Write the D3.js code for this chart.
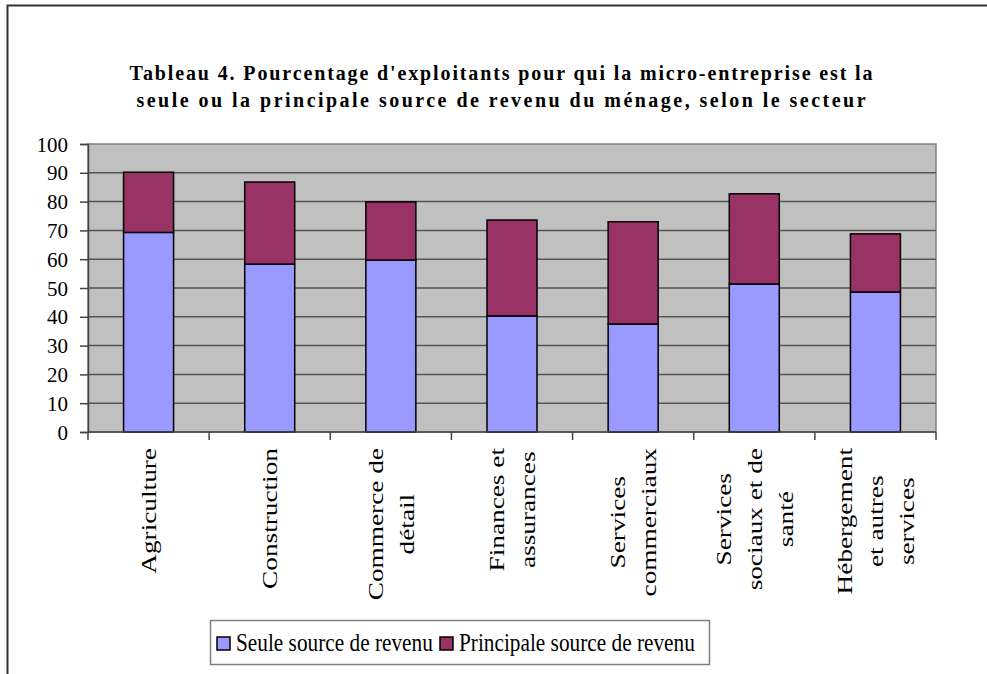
<!DOCTYPE html>
<html>
<head>
<meta charset="utf-8">
<script src="https://cdn.jsdelivr.net/npm/d3@7"></script>
<style>
  html, body { margin: 0; padding: 0; background: #fff; }
  svg text { font-family: "Liberation Serif", "Times New Roman", Times, serif; }
</style>
</head>
<body>
<svg id="chart" width="987" height="674"></svg>
<script>
// data
const categories = [
  ["Agriculture"],
  ["Construction"],
  ["Commerce de", "détail"],
  ["Finances et", "assurances"],
  ["Services", "commerciaux"],
  ["Services", "sociaux et de", "santé"],
  ["Hébergement", "et autres", "services"]
];
const seule = [69.3, 58.3, 59.7, 40.3, 37.5, 51.4, 48.6];
const principale = [20.9, 28.5, 20.2, 33.3, 35.5, 31.3, 20.2];
const seriesNames = ["Seule source de revenu", "Principale source de revenu"];
const seriesColors = ["#9999FF", "#993366"];
const yTicks = [0, 10, 20, 30, 40, 50, 60, 70, 80, 90, 100];
const titleLines = [
  "Tableau 4. Pourcentage d'exploitants pour qui la micro-entreprise est la",
  "seule ou la principale source de revenu du ménage, selon le secteur"
];
const titleWidths = [743, 729];

const svg = d3.select("#chart");

// outer frame (only top and left edges visible)
svg.append("path")
  .attr("d", "M7.5,674 L7.5,5.5 L987,5.5")
  .attr("fill", "none")
  .attr("stroke", "#333")
  .attr("stroke-width", 2);

// title
const titleG = svg.append("g").attr("transform", "translate(501,0)");
titleLines.forEach((t, i) => {
  titleG.append("text")
    .attr("transform", `translate(0,${80 + i * 27}) scale(1,1.08)`)
    .attr("text-anchor", "middle")
    .attr("font-weight", "bold")
    .attr("font-size", 20)
    .attr("textLength", titleWidths[i])
    .attr("lengthAdjust", "spacing")
    .text(t);
});

const plot = { left: 88, right: 936, top: 144, bottom: 432 };

const x = d3.scaleBand()
  .domain(d3.range(categories.length))
  .range([plot.left, plot.right])
  .paddingInner(0)
  .paddingOuter(0);

const y = d3.scaleLinear()
  .domain([0, 100])
  .range([plot.bottom, plot.top]);

// plot background
svg.append("rect")
  .attr("x", plot.left).attr("y", plot.top)
  .attr("width", plot.right - plot.left)
  .attr("height", plot.bottom - plot.top)
  .attr("fill", "#C0C0C0")
  .attr("stroke", "#808080")
  .attr("stroke-width", 1.5);

// gridlines
svg.append("g")
  .selectAll("line")
  .data(yTicks.filter(d => d > 0 && d < 100))
  .join("line")
  .attr("x1", plot.left).attr("x2", plot.right)
  .attr("y1", d => y(d)).attr("y2", d => y(d))
  .attr("stroke", "#555")
  .attr("stroke-width", 1.5);

// stacked bars
const stack = d3.stack().keys([0, 1])(
  categories.map((c, i) => ({ 0: seule[i], 1: principale[i] }))
);
const barW = 50;

svg.append("g")
  .selectAll("g")
  .data(stack)
  .join("g")
  .attr("fill", (d, i) => seriesColors[i])
  .selectAll("rect")
  .data(d => d)
  .join("rect")
  .attr("x", (d, i) => x(i) + x.bandwidth() / 2 - barW / 2)
  .attr("width", barW)
  .attr("y", d => y(d[1]))
  .attr("height", d => y(d[0]) - y(d[1]))
  .attr("stroke", "#000")
  .attr("stroke-width", 1.5);

// y axis
const yAxis = svg.append("g")
  .attr("transform", `translate(${plot.left},0)`)
  .call(d3.axisLeft(y).tickValues(yTicks).tickSize(8).tickPadding(12));
yAxis.attr("font-family", null);
yAxis.select(".domain").attr("stroke", "#444").attr("stroke-width", 1.5);
yAxis.selectAll(".tick line").attr("stroke", "#444").attr("stroke-width", 1.5);
yAxis.selectAll(".tick text")
  .attr("font-size", 21)
  .attr("fill", "#000")
  .attr("dy", "0.34em");

// x axis: ticks at category boundaries
const boundaries = d3.range(categories.length + 1).map(i =>
  i < categories.length ? x(i) : x(i - 1) + x.bandwidth());
const xAxisG = svg.append("g");
xAxisG.append("line")
  .attr("x1", plot.left).attr("x2", plot.right)
  .attr("y1", plot.bottom).attr("y2", plot.bottom)
  .attr("stroke", "#444").attr("stroke-width", 1.5);
xAxisG.selectAll("line.tk")
  .data(boundaries)
  .join("line")
  .attr("class", "tk")
  .attr("x1", d => d).attr("x2", d => d)
  .attr("y1", plot.bottom).attr("y2", plot.bottom + 8)
  .attr("stroke", "#444").attr("stroke-width", 1.5);

// rotated category labels
const labelFont = 22, lineStep = 31, stretch = 1.24, labelTop = 448;
categories.forEach((lines, i) => {
  const cx = x(i) + x.bandwidth() / 2;
  const g = svg.append("g");
  const texts = lines.map((line, j) => g.append("text")
    .attr("font-size", labelFont)
    .attr("text-anchor", "middle")
    .attr("dy", "0.33em")
    .text(line));
  const maxLen = d3.max(texts, t => t.node().getComputedTextLength()) * stretch;
  const cy = labelTop + maxLen / 2;
  texts.forEach((t, j) => {
    const lx = cx + (j - (lines.length - 1) / 2) * lineStep;
    t.attr("transform", `translate(${lx},${cy}) rotate(-90) scale(${stretch},1)`);
  });
});

// legend
const legend = svg.append("g");
legend.append("rect")
  .attr("x", 210.5).attr("y", 620.5)
  .attr("width", 499).attr("height", 44)
  .attr("fill", "#fff")
  .attr("stroke", "#808080")
  .attr("stroke-width", 1.5);
const legendX = [217, 440];
seriesNames.forEach((name, i) => {
  legend.append("rect")
    .attr("x", legendX[i]).attr("y", 637)
    .attr("width", 13).attr("height", 13)
    .attr("fill", seriesColors[i])
    .attr("stroke", "#000")
    .attr("stroke-width", 1.5);
  legend.append("text")
    .attr("transform", `translate(${legendX[i] + 19},651) scale(1,1.18)`)
    .attr("font-size", 21.3)
    .text(name);
});
</script>
</body>
</html>
